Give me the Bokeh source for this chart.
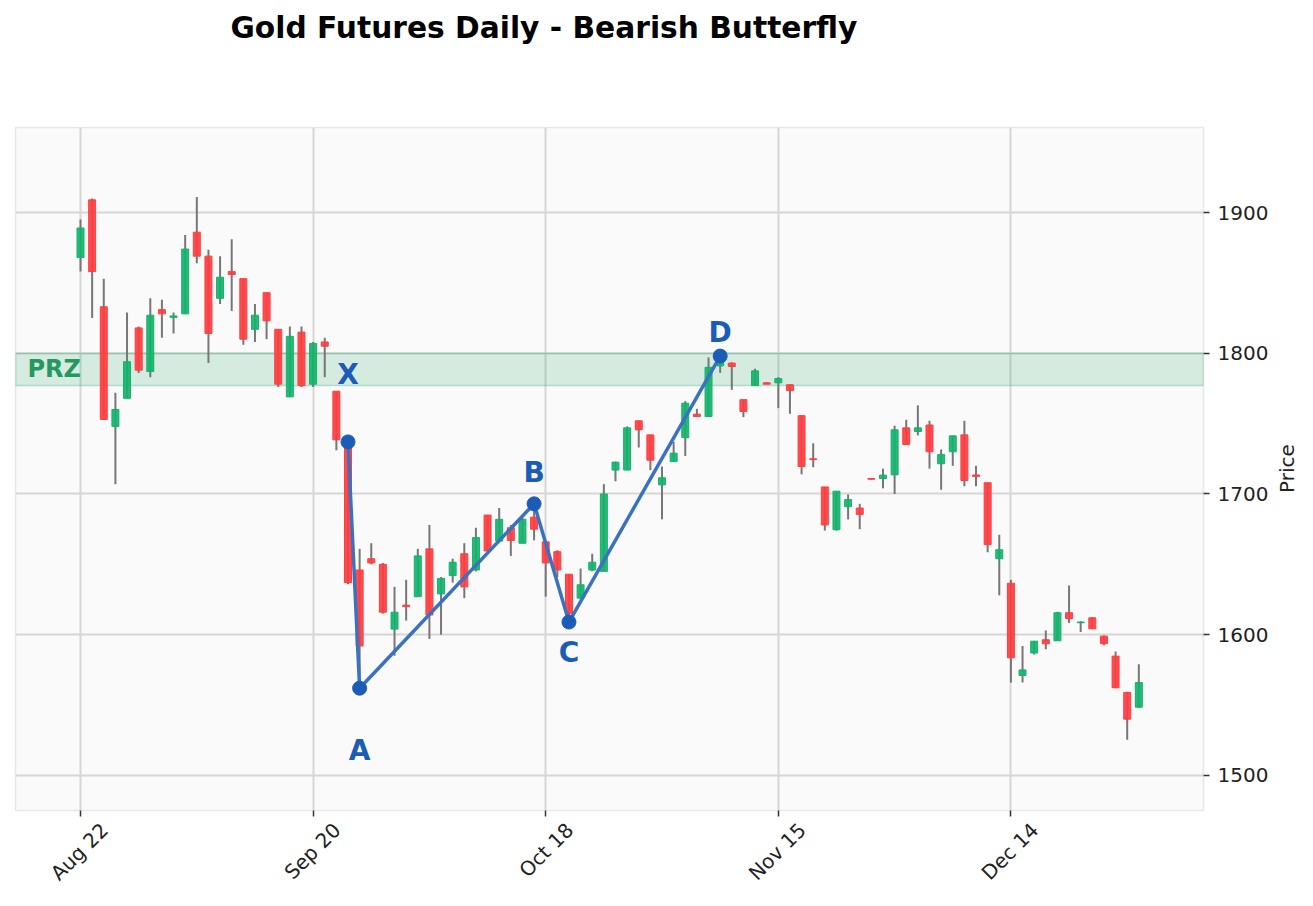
import math

from bokeh.core.properties import value
from bokeh.embed import file_html
from bokeh.models import BoxAnnotation, FixedTicker, Label, LinearAxis, Range1d, Title
from bokeh.plotting import figure
from bokeh.resources import INLINE

# Daily OHLC bars (trading-day index 0..91)
opens = [1868, 1909, 1833, 1748, 1768, 1818, 1787, 1831, 1825.5, 1828,
         1886, 1869, 1839, 1858, 1853, 1817, 1843, 1817, 1769, 1815,
         1778, 1808, 1773, 1737, 1646, 1654, 1650, 1604, 1621, 1627,
         1661, 1629, 1642, 1657.5, 1646, 1685, 1666.5, 1676, 1665, 1683.5,
         1666, 1659, 1643, 1626, 1646, 1645, 1717, 1717, 1752, 1742,
         1706.5, 1723, 1740, 1756.7, 1755, 1791, 1793, 1767, 1777, 1779,
         1779, 1777.6, 1755.6, 1725, 1705, 1674.6, 1691, 1690, 1711, 1711,
         1713.6, 1747, 1744.4, 1749, 1721.5, 1730, 1742, 1713.5, 1708, 1654,
         1636.6, 1571, 1587, 1596.4, 1595.7, 1615.6, 1608.5, 1612, 1599, 1584.8,
         1559, 1548.5]
highs = [1895, 1910, 1853, 1772, 1829, 1819, 1839, 1838, 1829, 1884,
         1911, 1873.5, 1869, 1881, 1853, 1835, 1843, 1817, 1819, 1819,
         1808, 1811, 1773, 1739, 1661, 1665, 1651, 1634, 1639, 1661,
         1678, 1641, 1654, 1665, 1676, 1685, 1690, 1678, 1683, 1693,
         1666, 1660, 1643, 1647, 1657.5, 1707, 1723, 1748, 1752, 1742,
         1719.5, 1737, 1766, 1760.5, 1797, 1798, 1793.5, 1767, 1789, 1779.5,
         1783, 1778, 1756, 1736, 1705, 1702, 1699.6, 1693, 1711, 1718,
         1748.5, 1752.7, 1763, 1752, 1731.6, 1741.5, 1752, 1720, 1708, 1671,
         1639, 1592, 1595.5, 1603, 1616.3, 1635, 1609.5, 1612.5, 1599.5, 1588,
         1559.5, 1579]
lows = [1858, 1825, 1753, 1707, 1768, 1786, 1783, 1811, 1814, 1828,
        1864, 1793, 1835, 1830, 1806, 1808, 1810, 1776, 1769, 1776,
        1776, 1783, 1731, 1636, 1562, 1650, 1615, 1585, 1610, 1627,
        1597, 1600, 1637, 1626, 1645, 1659, 1666, 1656, 1665, 1667,
        1627, 1641, 1609, 1625, 1645, 1645, 1709, 1717, 1733, 1717,
        1682, 1723, 1727, 1755, 1755, 1786, 1774, 1754.6, 1777, 1778,
        1761, 1757, 1714, 1719, 1674, 1674, 1682, 1675, 1710, 1704,
        1700, 1735, 1741.6, 1718, 1703, 1720, 1705.5, 1705.5, 1658.6, 1628,
        1566, 1566, 1586, 1589.7, 1595.7, 1608.3, 1602, 1604, 1592.6, 1562,
        1525.4, 1548]
closes = [1889, 1858, 1753, 1760, 1794, 1788, 1827, 1828, 1826.5, 1874,
          1869, 1814, 1854, 1856, 1810, 1827, 1823, 1778, 1812, 1777,
          1807, 1805, 1738.5, 1637, 1592, 1651, 1616, 1616, 1620, 1656,
          1614, 1640, 1651.5, 1634, 1669, 1659.5, 1682, 1667, 1682, 1675,
          1651, 1646, 1615, 1635.5, 1651.5, 1700, 1722.6, 1747, 1745.6, 1724,
          1711.5, 1729, 1764.5, 1755, 1790, 1796, 1790.6, 1758.6, 1787.5, 1778,
          1782, 1773.5, 1719.5, 1724.5, 1678, 1702, 1696, 1685.5, 1710.5, 1713.4,
          1745.6, 1735.2, 1747, 1730, 1728, 1741.3, 1709.6, 1712.5, 1664, 1660.4,
          1583.6, 1575, 1595.4, 1593.6, 1615.6, 1611.5, 1609, 1604.2, 1593.6, 1562.3,
          1540, 1566]

# Axis ticks
tick_index = [0, 20, 40, 60, 80]
tick_labels = ["Aug 22", "Sep 20", "Oct 18", "Nov 15", "Dec 14"]
price_ticks = [1500, 1600, 1700, 1800, 1900]

# Harmonic pattern pivots (bar index, price)
pivot_names = ["X", "A", "B", "C", "D"]
pivot_index = [23, 24, 39, 42, 55]
pivot_price = [1737, 1562, 1693, 1609, 1798]

# Potential reversal zone
prz_low = 1777
prz_high = 1800

GREEN = "#13b36b"
RED = "#ff3d3f"
BLUE_LINE = "#3a72c0"
BLUE_DARK = "#1b5cb6"
FONT = "DejaVu Sans"

X_START, X_END = -5.59, 96.56
Y_START, Y_END = 1475.1, 1960.4
FRAME_W, FRAME_H = 1188, 683
PX_PER_BAR = FRAME_W / (X_END - X_START)
PX_PER_USD = FRAME_H / (Y_END - Y_START)

idx = list(range(len(opens)))
up = [i for i in idx if closes[i] >= opens[i]]
down = [i for i in idx if closes[i] < opens[i]]

p = figure(
    frame_width=FRAME_W, frame_height=FRAME_H,
    min_border_left=15, min_border_right=110,
    min_border_top=127, min_border_bottom=96,
    x_range=Range1d(X_START, X_END), y_range=Range1d(Y_START, Y_END),
    y_axis_location="right",
    output_backend="svg", toolbar_location=None,
    background_fill_color="#fafafa", border_fill_color="white",
)
p.outline_line_color = "#e8e8e8"
p.outline_line_width = 1.5

# title block: an empty spacer next to the frame, the heading above it
p.add_layout(Title(text=" ", text_font_size="1px", standoff=70), "above")
p.add_layout(Title(text="Gold Futures Daily - Bearish Butterfly",
                   align="left", offset=215, vertical_align="middle", standoff=17,
                   text_font=FONT, text_font_style="bold", text_font_size="29.7px",
                   text_color="black"), "above")

# grid
p.xgrid.ticker = FixedTicker(ticks=tick_index)
p.ygrid.ticker = FixedTicker(ticks=price_ticks)
for g in (p.xgrid, p.ygrid):
    g.grid_line_color = "#d6d6d6"
    g.grid_line_width = 2

# x axis: tick marks on the dates, slanted labels centred under them
label_shift = 24 / PX_PER_BAR
label_pos = [t + label_shift for t in tick_index]
p.xaxis.ticker = FixedTicker(ticks=label_pos, minor_ticks=tick_index)
p.xaxis.major_label_overrides = {t: lab for t, lab in zip(label_pos, tick_labels)}
p.xaxis.major_label_orientation = math.pi / 4
p.xaxis.major_tick_line_color = None
p.xaxis.minor_tick_line_color = "#333333"
p.xaxis.minor_tick_line_width = 1.5
p.xaxis.minor_tick_in = 0
p.xaxis.minor_tick_out = 6

p.yaxis.ticker = FixedTicker(ticks=price_ticks)
p.yaxis.minor_tick_line_color = None
p.yaxis.major_tick_line_color = "#333333"
p.yaxis.major_tick_line_width = 1.5

for ax in (p.xaxis, p.yaxis):
    ax.axis_line_color = None
    ax.major_tick_in = 0
    ax.major_tick_out = 6
    ax.major_label_text_font = FONT
    ax.major_label_text_font_size = "20px"
    ax.major_label_text_color = "#222222"
p.xaxis.major_label_standoff = 10
p.yaxis.major_label_standoff = 8

# "Price" caption, upright text centred on the frame, outside the tick labels
mid_price = (Y_START + Y_END) / 2
caption_at = round(mid_price - 24 / PX_PER_USD, 2)
caption_axis = LinearAxis(
    ticker=FixedTicker(ticks=[caption_at]),
    major_label_overrides={caption_at: "Price"},
    major_label_orientation=math.pi / 2,
    axis_line_color=None, major_tick_line_color=None, minor_tick_line_color=None,
    major_tick_in=0, major_tick_out=0, major_label_standoff=16,
    major_label_text_font=FONT, major_label_text_font_size="20px",
    major_label_text_color="#222222",
)
p.add_layout(caption_axis, "right")

# PRZ band
p.add_layout(BoxAnnotation(bottom=prz_low, top=prz_high,
                           fill_color="#2aa86c", fill_alpha=0.18,
                           line_color="#2aa86c", line_alpha=0.3, line_width=1.5,
                           level="underlay"))
p.add_layout(Label(x=12, x_units="screen", y=(prz_low + prz_high) / 2,
                   text="PRZ", text_font=FONT, text_font_style="bold",
                   text_font_size="24px", text_color="#24995f",
                   text_align="left", text_baseline="middle"))

# wicks
p.segment(x0=idx, y0=lows, x1=idx, y1=highs, line_color="#777777", line_width=2)

# bodies
for sel, col in ((up, GREEN), (down, RED)):
    p.vbar(x=sel,
           top=[max(opens[i], closes[i]) for i in sel],
           bottom=[min(opens[i], closes[i]) for i in sel],
           width=0.6, fill_color=col, fill_alpha=0.92,
           line_color=col, line_width=1)

# XABCD pattern
p.line(pivot_index, pivot_price, line_color=BLUE_LINE, line_width=3.5)
p.scatter(pivot_index, pivot_price, size=14, fill_color=BLUE_DARK, line_color=BLUE_DARK)
p.text(x=pivot_index, y=pivot_price, text=pivot_names,
       y_offset=[-67, 62, -31, 30, -24],
       text_align="center", text_baseline="middle",
       text_font=value(FONT), text_font_style="bold",
       text_font_size="28px", text_color=BLUE_DARK)

open("out.html", "w").write(file_html(p, INLINE))
